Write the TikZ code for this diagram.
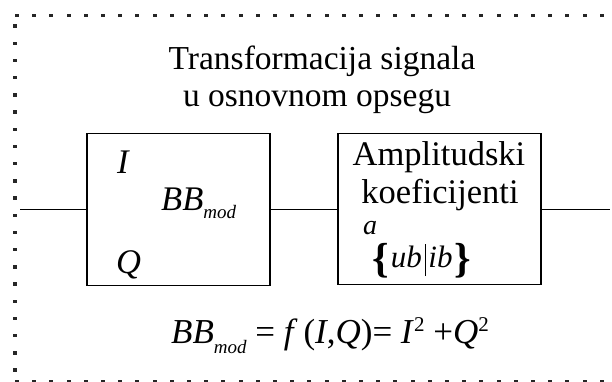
\documentclass[tikz,border=0pt]{standalone}
\usepackage{fontspec}
\setmainfont{Liberation Serif}
\usepackage{graphicx}
\newcommand\mysub[2][-8pt]{\raisebox{#1}{\fontsize{19}{19}\selectfont\itshape #2}}
\newcommand\mysup[1]{\raisebox{12pt}{\fontsize{21}{21}\selectfont #1}}
\newcommand\mybrace[1]{\raisebox{-5pt}{\bfseries\fontsize{42}{42}\selectfont #1}}
\begin{document}
\begin{tikzpicture}[x=1pt,y=-1pt,
  blk/.style={draw, line width=1.6pt, inner sep=0pt},
  wire/.style={line width=1.4pt},
  txt/.style={inner sep=0pt, font=\fontsize{33.5}{37}\selectfont},
  btxt/.style={inner sep=0pt, font=\fontsize{34.5}{37}\selectfont},
  dotsq/.style={fill=black!85}]
\useasboundingbox (0,0) rectangle (612,381);
% dotted frame
\foreach \i in {0,...,35} {\fill[dotsq] ({15+17.2*\i},13.8) rectangle ++(4,3.5);}
\foreach \i in {0,...,20} {\fill[dotsq] (13,{24.3+17.2*\i}) rectangle ++(4,3.5);}
\foreach \i in {0,...,35} {\fill[dotsq] ({15+17.2*\i},379.5) rectangle ++(4,3.5);}
% title
\node[txt, anchor=base] (t1) at (322,69) {Transformacija signala};
\node[txt, anchor=base] (t2) at (317,106) {u osnovnom opsegu};
% blocks
\node[blk, minimum width=183pt, minimum height=152pt] (b1) at (178.5,209.5) {};
\node[blk, minimum width=203pt, minimum height=151pt] (b2) at (439.5,209) {};
\coordinate (in) at (20,209.5);
\coordinate (out) at (610,209.5);
\draw[wire] (in) -- (b1.west);
\draw[wire] (b1.east) -- (b1.east -| b2.west);
\draw[wire] (b2.east |- out) -- (out);
% block 1 labels
\node[btxt, anchor=base west] (li) at (117,173) {\itshape I};
\node[btxt, anchor=base west] (lq) at (116,273) {\itshape Q};
\node[btxt, anchor=base west] (lbb) at (161,210) {\itshape BB\mysub{mod}};
% block 2 labels
\node[btxt, anchor=base] (a1) at (439,165) {Amplitudski};
\node[btxt, anchor=base] (a2) at (440,203) {koeficijenti};
\node[inner sep=0pt, anchor=base west, font=\fontsize{28}{28}\selectfont\itshape] (la) at (363,234) {a};
\node[inner sep=0pt, anchor=base west, font=\fontsize{31}{31}\selectfont] (lbr) at (372,267)
  {\mybrace{\{}\kern2pt\textit{ub}\kern3pt\rule[-9pt]{0.7pt}{32pt}\kern3pt\textit{ib}\kern2pt\mybrace{\}}};
% formula
\node[inner sep=0pt, font=\fontsize{35}{37}\selectfont, anchor=base west] (f) at (171,343)
  {\itshape BB\mysub[-10pt]{mod}\upshape\ = \textit{f}\,(\textit{I},\textit{Q})= \textit{I}\mysup{2} +\textit{Q}\mysup{2}};
\end{tikzpicture}
\end{document}
